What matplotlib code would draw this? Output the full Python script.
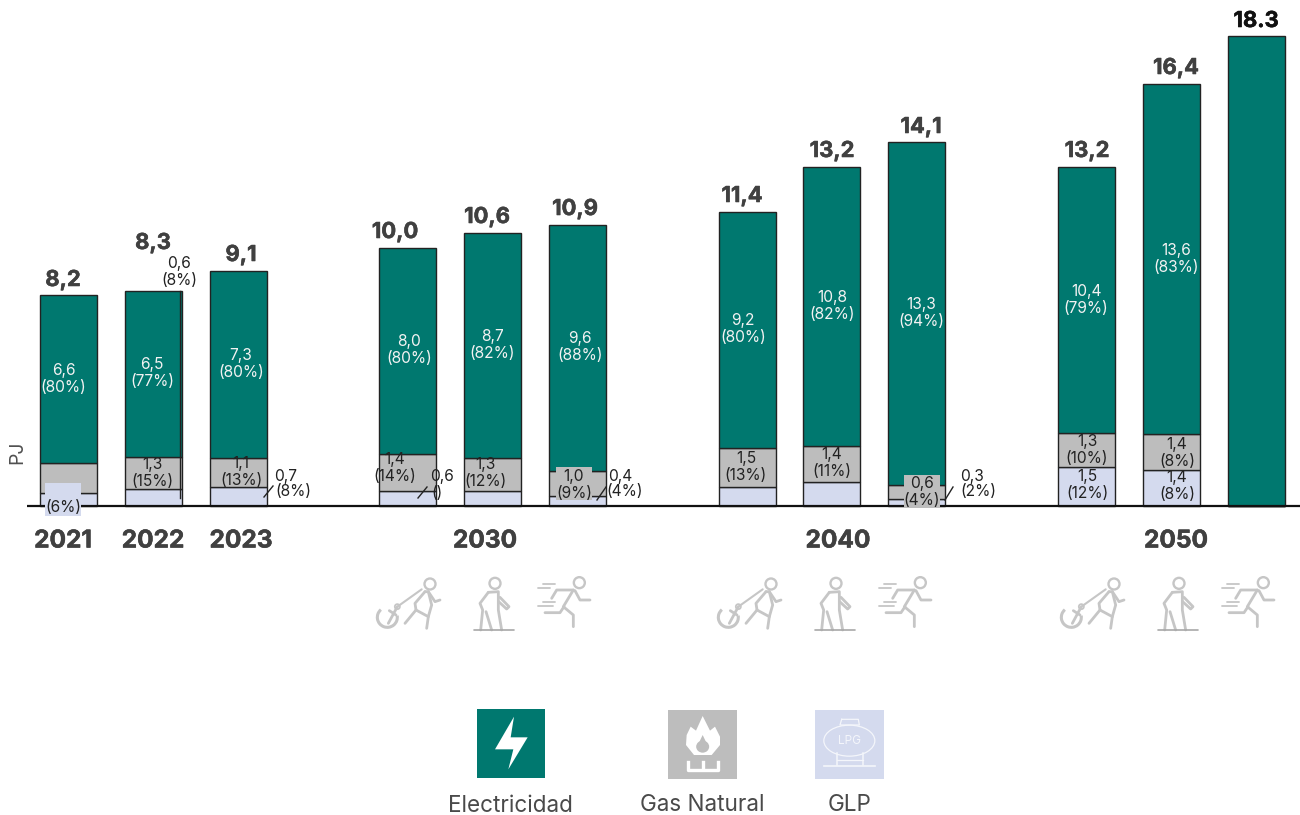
import matplotlib
matplotlib.use("Agg")
import matplotlib.pyplot as plt
import matplotlib.patheffects as pe
from matplotlib.patches import Rectangle, Circle, Polygon, Arc, Ellipse

plt.rcParams['font.family'] = ['Inter', 'DejaVu Sans']

# ---- data ----
slots = [0, 1, 2, 4, 5, 6, 8, 9, 10, 12, 13, 14]
glp = [0.50, 0.64, 0.72, 0.58, 0.58, 0.39, 0.74, 0.90, 0.27, 1.52, 1.40, 0.0]
gas = [1.14, 1.26, 1.15, 1.44, 1.29, 0.97, 1.52, 1.44, 0.55, 1.30, 1.40, 0.0]
elec = [6.58, 6.47, 7.28, 8.03, 8.73, 9.58, 9.19, 10.86, 13.35, 10.38, 13.63, 18.3]
totals = ['8,2', '8,3', '9,1', '10,0', '10,6', '10,9', '11,4', '13,2', '14,1', '13,2', '16,4', '18.3']
elec_labels = ['6,6\n(80%)', '6,5\n(77%)', '7,3\n(80%)', '8,0\n(80%)', '8,7\n(82%)', '9,6\n(88%)',
               '9,2\n(80%)', '10,8\n(82%)', '13,3\n(94%)', '10,4\n(79%)', '13,6\n(83%)']
gas_labels = ['1,3\n(15%)', '1,1\n(13%)', '1,4\n(14%)', '1,3\n(12%)', '1,5\n(13%)', '1,4\n(11%)', '1,3\n(10%)', '1,4\n(8%)']
glp_labels = ['1,5\n(12%)', '1,4\n(8%)']
years = ['2021', '2022', '2023', '2030', '2040', '2050']
legend_names = ['Electricidad', 'Gas Natural', 'GLP']

C_ELEC, C_GAS, C_GLP = '#00786F', '#BDBDBD', '#D4DAEE'
EDGE = '#222222'
TXT = '#404040'
W, H = 1300, 815
X0, UX, Y0, UY = 68.3, 84.85, 505.6, 25.68

fig = plt.figure(figsize=(13, 8.15), dpi=100, facecolor='white')
ax = fig.add_axes([0, 0, 1, 1], zorder=1)
ax.set_xlim(-X0 / UX, (W - X0) / UX)
ax.set_ylim(-(H - Y0) / UY, Y0 / UY)
ax.axis('off')
bw = 57 / UX
bot2 = [a + b for a, b in zip(glp, gas)]
ax.bar(slots, glp, bw, color=C_GLP, edgecolor=EDGE, lw=1.0)
ax.bar(slots, gas, bw, bottom=glp, color=C_GAS, edgecolor=EDGE, lw=1.0)
ax.bar(slots, elec, bw, bottom=bot2, color=C_ELEC, edgecolor=EDGE, lw=1.0)
ax.plot([(27 - X0) / UX, (W - X0) / UX], [0, 0], color='#111111', lw=1.6, solid_capstyle='butt')

# pixel overlay for annotations & icons
ov = fig.add_axes([0, 0, 1, 1], zorder=2)
ov.set_xlim(0, W)
ov.set_ylim(H, 0)
ov.axis('off')
ov.patch.set_alpha(0)

SMALL = 11.2
def t(x, y, s, **k):
    k.setdefault('fontsize', SMALL)
    k.setdefault('color', '#222222')
    return ov.text(x, y, s, ha='center', va='center', linespacing=1.12, zorder=6, **k)

def heavy(x, y, s, size, color):
    tx = t(x, y, s, fontsize=size, fontweight='bold', color=color)
    tx.set_path_effects([pe.withStroke(linewidth=0.4, foreground=color)])

tot_xy = [(63, 280), (153, 243), (241, 255), (395, 232), (487, 217), (575, 209),
          (742, 196), (832, 151), (921, 127), (1087, 151), (1176, 68), (1256, 21)]
for i, ((x, y), s) in enumerate(zip(tot_xy, totals)):
    heavy(x, y, s, 15.8, '#111111' if i == 11 else TXT)

el_xy = [(63.5, 379), (152, 373), (241, 364), (409, 350), (492, 345), (580, 347),
         (743, 329), (832, 306), (921, 313), (1086, 300), (1176, 259)]
for (x, y), s in zip(el_xy, elec_labels):
    t(x, y, s, color='#F2F2F2')

gas_xy = [(152, 473), (241, 472), (395, 468), (485, 473), (746, 467), (832, 463), (1087, 450), (1177, 453)]
for (x, y), s in zip(gas_xy, gas_labels):
    t(x, y, s)
for (x, y), s in zip([(1087, 485), (1177, 486)], glp_labels):
    t(x, y, s)

# boxed labels
for (x0, y0, x1, y1, col, tx, ty, s) in [
    (45, 483, 81, 516, C_GLP, 63, 507, '(6%)'),
    (556, 467, 592, 500, C_GAS, 574, 485, '1,0\n(9%)'),
    (904, 475, 940, 508, C_GAS, 922, 492, '0,6\n(4%)'),
]:
    ov.add_patch(Rectangle((x0, y0), x1 - x0, y1 - y0, color=col, lw=0, zorder=4))
    t(tx, ty, s)

# outside labels
for x, y, s in [(179, 272, '0,6\n(8%)'), (286, 477, '0,7'), (293, 492, '(8%)'),
                (442, 477, '0,6'), (437, 493, '()'), (620, 477, '0,4'), (625, 492, '(4%)'),
                (972, 477, '0,3'), (978, 492, '(2%)')]:
    t(x, y, s)

# leader lines
for xs, ys in [((180, 180), (291, 498)), ((264, 273), (497, 486)), ((418, 427), (498, 487)),
               ((597, 606), (500, 487)), ((945, 953), (500, 487))]:
    ov.plot(xs, ys, color='#222222', lw=1.0, zorder=5)

for x, s in zip([63, 153, 241, 485, 838, 1176], years):
    heavy(x, 541, s, 17.6, TXT)
t(17, 452, 'PJ', fontsize=14, color='#505050', rotation=90)

# scenario icons
G = '#C6C6C6'
def icon_set(dx):
    f = lambda u, v: (360 + dx + u / 3, 560 + v / 3)
    def pl(*pts, c=G, lw=2.0):
        xy = [f(*p) for p in pts]
        ov.plot([p[0] for p in xy], [p[1] for p in xy], color=c, lw=lw, solid_capstyle='round',
                solid_joinstyle='round', zorder=3)
    def head(u, v):
        ov.add_patch(Circle(f(u, v), 5.5, fill=False, ec=G, lw=1.7, zorder=3))
    # anchor + man
    head(210, 72)
    pl((185, 88), (115, 138), lw=1.5)
    ov.add_patch(Circle(f(112, 140), 2.5, fill=False, ec=G, lw=1.3))
    pl((112, 140), (85, 190))
    pl((88, 152), (108, 165))
    ov.add_patch(Arc(f(82, 172), 20, 20, angle=0, theta1=-10, theta2=230, ec=G, lw=2.2))
    pl((195, 95), (165, 130), (168, 150), (135, 190))
    pl((168, 150), (205, 170), (200, 205))
    pl((205, 95), (225, 125), (240, 120))
    pl((195, 95), (205, 95), (215, 135), (205, 170))
    # walker
    head(405, 70)
    pl((385, 97), (360, 130), (368, 150), (362, 210))
    pl((385, 97), (415, 95), (415, 150), (425, 210))
    pl((378, 155), (395, 210))
    pl((420, 112), (447, 140), (440, 147), (416, 125))
    pl((342, 211), (462, 211), c='#A8A8A8', lw=1.2)
    # runner
    head(658, 68)
    pl((640, 90), (590, 90), (575, 115))
    pl((645, 92), (660, 120), (690, 120))
    pl((640, 90), (610, 140), (640, 165), (640, 200))
    pl((612, 140), (600, 158), (555, 158))
    pl((550, 72), (585, 72), lw=1.3)
    pl((535, 85), (570, 85), lw=1.3)
    pl((550, 125), (585, 125), lw=1.3)
    pl((535, 137), (580, 137), lw=1.3)

for dx in (0, 341, 684):
    icon_set(dx)

# legend icons
L = lambda u, v: (440 + u / 3, 700 + v / 3)
for (x, y, w, h, c) in [(477, 709, 68, 69, C_ELEC), (668, 710, 69, 69, C_GAS), (815, 710, 69, 69, C_GLP)]:
    ov.add_patch(Rectangle((x, y), w, h, color=c, lw=0, zorder=3))
ov.add_patch(Polygon([L(*p) for p in [(222, 50), (165, 148), (220, 148), (205, 208), (263, 112), (212, 112)]],
                     color='white', lw=0, zorder=4))
ov.add_patch(Polygon([L(*p) for p in [(788, 48), (810, 92), (825, 80), (840, 110), (840, 135), (815, 165),
                                      (762, 165), (738, 135), (740, 105), (752, 80), (768, 92)]],
                     color='white', lw=0, zorder=4))
ov.add_patch(Ellipse(L(788, 140), 13, 12, color=C_GAS, lw=0, zorder=5))
ov.add_patch(Polygon([L(*p) for p in [(788, 105), (776, 130), (800, 130)]], color=C_GAS, lw=0, zorder=5))
ov.plot(*zip(L(745, 187), L(745, 210), L(834, 210), L(834, 187)), color='white', lw=2.4, zorder=4)
ov.plot(*zip(L(788, 187), L(788, 205)), color='white', lw=2.4, zorder=4)
LW = '#F4F6FB'
ov.add_patch(Ellipse(L(1228, 122), 51, 31, fill=False, ec=LW, lw=0.9, zorder=4))
ov.plot(*zip(L(1205, 58), L(1255, 58), L(1258, 75), L(1200, 75), L(1205, 58)), color=LW, lw=0.9, zorder=4)
ov.plot(*zip(L(1152, 197), L(1305, 197)), color=LW, lw=1.2, zorder=4)
ov.plot(*zip(L(1190, 158), L(1190, 195)), color=LW, lw=1.1, zorder=4)
ov.plot(*zip(L(1270, 158), L(1270, 195)), color=LW, lw=1.1, zorder=4)
ov.plot(*zip(L(1190, 180), L(1270, 180)), color=LW, lw=0.9, zorder=4)
ov.text(*L(1228, 123), 'LPG', color=LW, fontsize=8.5, ha='center', va='center', zorder=5)

for (x, y), s in zip([(510, 806), (702, 805), (850, 805)], legend_names):
    t(x, y, s, fontsize=16.2, color='#4A4A4A')

fig.savefig('out.png', dpi=100, facecolor='white')
